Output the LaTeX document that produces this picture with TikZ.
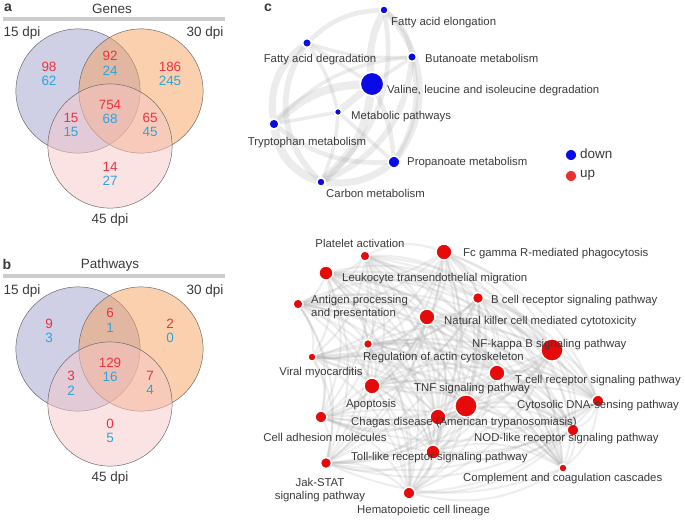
\documentclass[tikz,border=0pt]{standalone}
\usepackage{fontspec}
\setmainfont{Liberation Sans}
\usetikzlibrary{backgrounds}
\definecolor{VennRed}{HTML}{E8343F}
\definecolor{VennBlue}{HTML}{2AA6DE}
\definecolor{SetA}{HTML}{9F9FCD}
\definecolor{SetB}{HTML}{F5A15D}
\definecolor{SetC}{HTML}{F7C5C7}
\definecolor{DownBlue}{HTML}{0A0AE6}
\definecolor{UpRed}{HTML}{E60A0A}
\definecolor{LabelGray}{HTML}{3A3A3A}
\definecolor{EdgeGray}{HTML}{A8A8A8}
\newcommand{\rb}[2]{\textcolor{VennRed}{#1}\\\textcolor{VennBlue}{#2}}

\begin{document}
\begin{tikzpicture}[x=0.03cm,y=-0.03cm,
    setcirc/.style={circle,draw=gray!80!black,fill opacity=0.5,minimum size=106pt,inner sep=0pt},
    num/.style={align=center,font=\fontsize{11.5}{12.5}\selectfont,inner sep=0pt},
    dpi/.style={font=\fontsize{11.5}{12}\selectfont,text=LabelGray,inner sep=0pt},
    tag/.style={font=\fontsize{12}{12}\selectfont\bfseries,text=LabelGray,inner sep=0pt},
    bar/.style={line width=3pt,gray!40},
    dn/.style={circle,fill=DownBlue,draw=white,line width=1.2pt,inner sep=0pt,minimum size=#1},
    up/.style={circle,fill=UpRed,draw=white,line width=1.2pt,inner sep=0pt,minimum size=#1},
    lbl/.style={font=\fontsize{9.7}{11}\selectfont,text=LabelGray,inner sep=0pt},
    link/.style={draw=EdgeGray,draw opacity=0.22,line width=#1},
    web/.style={draw=EdgeGray,draw opacity=0.2,line width=1.8pt}]
  \useasboundingbox (0,0) rectangle (685,519);

  % a: genes
  \node[tag] (ta) at (8,8) {a};
  \node[dpi] (genes) at (112,9) {Genes};
  \draw[bar] (3,19) -- (225,19);
  \node[setcirc,fill=SetA] (ga15) at (78,91) {};
  \node[setcirc,fill=SetB] (ga30) at (141,91) {};
  \node[setcirc,fill=SetC] (ga45) at (110,146) {};
  \node[dpi] (la15) at (22,33) {15 dpi};
  \node[dpi] (la30) at (205,33) {30 dpi};
  \node[dpi] (la45) at (110,220) {45 dpi};
  \node[num] (na1) at (49,74) {\rb{98}{62}};
  \node[num] (na2) at (110,63) {\rb{92}{24}};
  \node[num] (na3) at (170,74) {\rb{186}{245}};
  \node[num] (na4) at (110,112) {\rb{754}{68}};
  \node[num] (na5) at (71,125) {\rb{15}{15}};
  \node[num] (na6) at (150,125) {\rb{65}{45}};
  \node[num] (na7) at (110,174) {\rb{14}{27}};

  % b: pathways
  \node[tag] (tb) at (7,264) {b};
  \node[dpi] (paths) at (110,265) {Pathways};
  \draw[bar] (3,276) -- (225,276);
  \node[setcirc,fill=SetA] (gb15) at (78,349) {};
  \node[setcirc,fill=SetB] (gb30) at (141,349) {};
  \node[setcirc,fill=SetC] (gb45) at (110,404) {};
  \node[dpi] (lb15) at (22,291) {15 dpi};
  \node[dpi] (lb30) at (205,291) {30 dpi};
  \node[dpi] (lb45) at (110,478) {45 dpi};
  \node[num] (nb1) at (49,331) {\rb{9}{3}};
  \node[num] (nb2) at (110,320) {\rb{6}{1}};
  \node[num] (nb3) at (170,331) {\rb{2}{0}};
  \node[num] (nb4) at (110,370) {\rb{129}{16}};
  \node[num] (nb5) at (71,383) {\rb{3}{2}};
  \node[num] (nb6) at (150,383) {\rb{7}{4}};
  \node[num] (nb7) at (110,431) {\rb{0}{5}};

  % c: network
  \node[tag] (tc) at (268,8) {c};
  \node[dn=7pt] (fae) at (384,10) {};
  \node[dn=7.5pt] (fad) at (307,43) {};
  \node[dn=7.5pt] (but) at (412,57) {};
  \node[dn=20pt] (val) at (372,84) {};
  \node[dn=6pt] (met) at (338,112) {};
  \node[dn=8.5pt] (trp) at (274,124) {};
  \node[dn=10pt] (pro) at (394,162) {};
  \node[dn=7pt] (car) at (321,182) {};
  \node[lbl,anchor=west] at (391,23) {Fatty acid elongation};
  \node[lbl] at (320,60) {Fatty acid degradation};
  \node[lbl,anchor=west] at (425,58) {Butanoate metabolism};
  \node[lbl,anchor=west] at (387,91) {Valine, leucine and isoleucine degradation};
  \node[lbl,anchor=west] at (351,117) {Metabolic pathways};
  \node[lbl] at (307,143) {Tryptophan metabolism};
  \node[lbl,anchor=west] at (407,163) {Propanoate metabolism};
  \node[lbl,anchor=west] at (326,193) {Carbon metabolism};

  \node[dn=10pt] (kdown) at (571,155) {};
  \node[up=10pt,fill=UpRed!85!white] (kup) at (571,176) {};
  \node[dpi,anchor=west] at (580,154) {down};
  \node[dpi,anchor=west] at (580,175) {up};

  \node[up=8.5pt] (plt) at (365,256) {};
  \node[up=13.6pt] (fc) at (444,252) {};
  \node[up=12pt] (leu) at (326,273) {};
  \node[up=8.5pt] (ant) at (298,304) {};
  \node[up=9.5pt] (bcr) at (478,298) {};
  \node[up=13.6pt] (nk) at (427,317) {};
  \node[up=7.7pt] (reg) at (368,344) {};
  \node[up=19pt] (nfk) at (552,350) {};
  \node[up=7pt] (vir) at (312,357) {};
  \node[up=13.6pt] (apo) at (372,386) {};
  \node[up=19pt] (tnf) at (466,406) {};
  \node[up=13.6pt] (tcr) at (497,373) {};
  \node[up=10pt] (cyt) at (598,401) {};
  \node[up=13.6pt] (cha) at (438,417) {};
  \node[up=10pt] (nod) at (573,430) {};
  \node[up=10pt] (cam) at (321,417) {};
  \node[up=12pt] (tol) at (433,452) {};
  \node[up=7pt] (com) at (563,468) {};
  \node[up=9.5pt] (jak) at (326,463) {};
  \node[up=10pt] (hem) at (409,493) {};
  \node[lbl] at (360,243) {Platelet activation};
  \node[lbl,anchor=west] at (463,254) {Fc gamma R-mediated phagocytosis};
  \node[lbl,anchor=west] at (342,279) {Leukocyte transendothelial migration};
  \node[lbl,anchor=west,align=left] at (311,307) {Antigen processing\\and presentation};
  \node[lbl,anchor=west] at (491,301) {B cell receptor signaling pathway};
  \node[lbl,anchor=west] at (444,322) {Natural killer cell mediated cytotoxicity};
  \node[lbl,anchor=west] at (363,358) {Regulation of actin cytoskeleton};
  \node[lbl,anchor=west] at (472,345) {NF-kappa B signaling pathway};
  \node[lbl] at (321,373) {Viral myocarditis};
  \node[lbl] at (371,405) {Apoptosis};
  \node[lbl,anchor=west] at (414,389) {TNF signaling pathway};
  \node[lbl,anchor=west] at (515,381) {T cell receptor signaling pathway};
  \node[lbl,anchor=west] at (517,406) {Cytosolic DNA-sensing pathway};
  \node[lbl,anchor=west] at (351,423) {Chagas disease (American trypanosomiasis)};
  \node[lbl,anchor=west] at (474,439) {NOD-like receptor signaling pathway};
  \node[lbl] at (325,437) {Cell adhesion molecules};
  \node[lbl,anchor=west] at (351,458) {Toll-like receptor signaling pathway};
  \node[lbl,anchor=west] at (463,479) {Complement and coagulation cascades};
  \node[lbl,align=center] at (320,490) {Jak-STAT\\signaling pathway};
  \node[lbl,anchor=west] at (357,511) {Hematopoietic cell lineage};

  \begin{scope}[on background layer]
    \foreach \a/\b/\bend/\w in {fad/fae/20/4pt, fad/but/-10/3pt, fad/val/0/3pt,
        fad/trp/-30/6pt, fad/car/-40/5pt, fad/met/10/3pt, fae/but/20/4pt,
        fae/val/-15/6pt, fae/pro/40/5pt, fae/car/30/4pt, but/val/0/3pt,
        but/pro/20/4pt, but/car/30/5pt, but/trp/-20/3pt, val/met/0/6pt,
        val/trp/-20/7pt, val/pro/10/4pt, val/car/20/7pt, met/trp/0/3pt,
        met/car/10/3pt, met/pro/0/3pt, trp/car/-30/7pt, trp/pro/-20/4pt,
        pro/car/20/6pt}
      \draw[link=\w] (\a) to[bend left=\bend] (\b);
    \def\upset{plt,fc,leu,ant,bcr,nk,reg,nfk,vir,apo,tnf,tcr,cyt,cha,nod,cam,tol,com,jak,hem}
    \foreach \a [count=\i] in \upset {
      \foreach \b [count=\j] in \upset {
        \ifnum\j>\i \draw[web] (\a) to[bend left=22] (\b); \fi
      }
    }
  \end{scope}
\end{tikzpicture}
\end{document}
